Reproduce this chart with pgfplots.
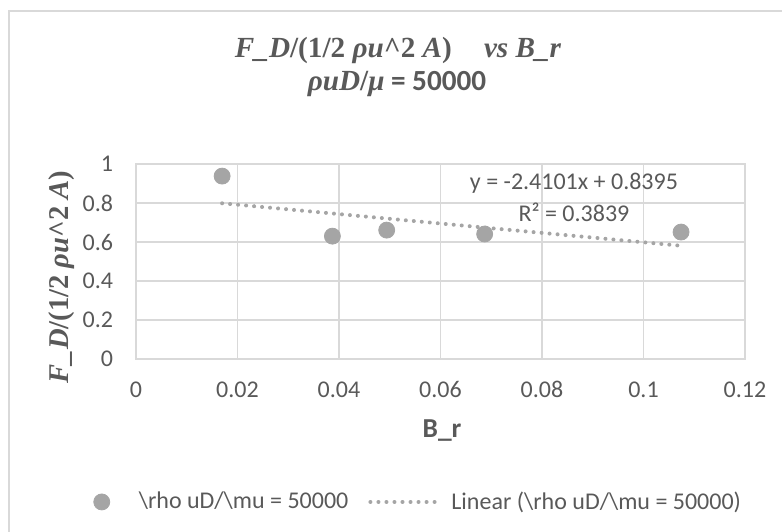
\documentclass[border=0pt]{standalone}
\usepackage{fontspec}
\setmainfont{Carlito}
\newfontfamily\cam{Liberation Serif}
\usepackage{pgfplots}
\pgfplotsset{compat=1.18}
\definecolor{txt}{HTML}{595959}
\definecolor{grd}{HTML}{D9D9D9}
\definecolor{mk}{HTML}{A5A5A5}

\pgfplotsset{
  dotleg/.style={legend image code/.code={\draw[mark repeat=2,mark phase=2,##1] plot coordinates {(0pt,0pt)(6.5pt,0pt)(13pt,0pt)};}},
  linleg/.style={legend image code/.code={\draw[##1] (0pt,0pt) -- (35.5pt,0pt);}},
}

\newcommand{\ttl}{\cam\bfseries\itshape F\_D\upshape/(1/2 \itshape ρu\upshape\textasciicircum2 \itshape A\upshape)}

\begin{document}
\begin{tikzpicture}[x=0.5pt,y=0.5pt]
\useasboundingbox (0,0) rectangle (782,531);
\draw[grd, line width=0.9pt] (9,-10) -- (9,520) -- (800,520);

% titles
\node[anchor=base, inner sep=0, text=txt, font=\fontsize{14.6}{18}\selectfont] at (398,473)
  {\ttl\hspace{1.1em}\itshape vs B\_r};
\node[anchor=base, inner sep=0, text=txt, font=\fontsize{14.6}{18}\selectfont] at (397,440)
  {{\cam\bfseries\itshape ρuD\upshape/\itshape μ} \bfseries = 50000};
\node[rotate=90, inner sep=0, text=txt, font=\fontsize{14.3}{18}\selectfont] at (62,254) {\ttl};
\node[anchor=base, inner sep=0, text=txt, font=\bfseries\fontsize{13.7}{16}\selectfont] at (442,94) {B\_r};

\begin{axis}[
    at={(68pt,86pt)}, anchor=south west,
    width=304.5pt, height=97.5pt, scale only axis,
    xmin=0, xmax=0.12, ymin=0, ymax=1,
    xtick={0,0.02,0.04,0.06,0.08,0.1,0.12},
    xticklabels={0,0.02,0.04,0.06,0.08,0.1,0.12},
    ytick={0,0.2,0.4,0.6,0.8,1},
    yticklabels={0,0.2,0.4,0.6,0.8,1},
    major tick length=0pt,
    grid=major,
    grid style={grd, line width=0.85pt},
    axis line style={grd, line width=0.85pt},
    tick label style={font=\fontsize{12}{14}\selectfont, text=txt, inner sep=0pt},
    xticklabel style={anchor=base, yshift=-19pt},
    yticklabel style={anchor=east, xshift=-11.25pt},
    clip=false,
    legend columns=2,
    legend style={at={(-0.07,-0.733)}, anchor=west, draw=none, fill=none,
      inner sep=0pt, font=\fontsize{12}{14}\selectfont, text=txt,
      nodes={inner sep=0pt},
      /tikz/column 1/.style={column sep=14.5pt},
      /tikz/column 2/.style={column sep=10pt},
      /tikz/column 3/.style={column sep=4pt}},
]
\addplot[only marks, mark=*, mark size=4pt, mk, mark options={draw=mk, fill=mk}, dotleg]
  coordinates {(0.01697,0.938)(0.0387,0.630)(0.0494,0.661)(0.0687,0.641)(0.1074,0.651)};
\addlegendentry{\textbackslash rho uD/\textbackslash mu = 50000}
\addplot[mk, line width=2pt, line cap=round, dash pattern=on 0.01pt off 4pt, linleg]
  coordinates {(0.01697,0.7986)(0.1074,0.5807)};
\addlegendentry{Linear (\textbackslash rho uD/\textbackslash mu = 50000)}
\node[text=txt, inner sep=0, font=\fontsize{12}{14}\selectfont] at (axis cs:0.0863,0.9026) {y = -2.4101x + 0.8395};
\node[text=txt, inner sep=0, font=\fontsize{12}{14}\selectfont] at (axis cs:0.0863,0.754) {R² = 0.3839};
\end{axis}
\end{tikzpicture}
\end{document}
